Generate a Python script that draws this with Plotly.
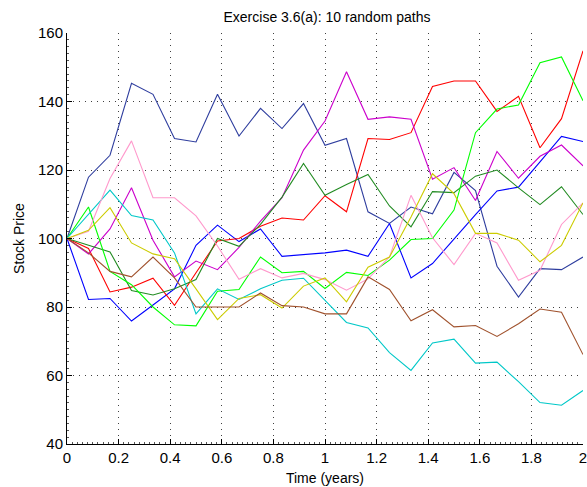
import plotly.graph_objects as go

time = [0, 1/12, 2/12, 3/12, 4/12, 5/12, 6/12, 7/12, 8/12, 9/12, 10/12, 11/12, 1,
        13/12, 14/12, 15/12, 16/12, 17/12, 18/12, 19/12, 20/12, 21/12, 22/12, 23/12, 2]

navy = [100, 117.9, 124.3, 145.3, 142.1, 129.2, 128.2, 142.1, 129.9, 138.0, 132.1, 139.4, 127.2,
        129.2, 107.8, 104.4, 109.2, 107.2, 119.3, 114.0, 91.9, 82.9, 91.2, 90.9, 94.6]
blue = [100, 82.2, 82.5, 75.9, 80.6, 85.3, 98.0, 103.9, 99.1, 102.8, 94.8, 95.3, 95.8,
        96.6, 94.8, 104.4, 88.5, 92.7, 100.0, 107.0, 113.9, 115.0, 122.4, 129.8, 128.3]
red = [100, 97.1, 84.4, 85.8, 88.4, 80.5, 90.0, 99.3, 100.0, 103.6, 106.0, 105.4, 112.5,
       107.8, 129.2, 128.9, 130.9, 144.4, 146.0, 146.0, 137.1, 141.5, 126.5, 135.0, 154.8]
magenta = [100, 95.5, 102.8, 114.8, 99.5, 88.8, 93.4, 90.9, 97.4, 105.1, 111.9, 125.8, 134.3,
           148.7, 134.8, 135.5, 134.8, 117.3, 120.7, 111.1, 125.4, 117.6, 124.0, 127.3, 121.2]
dgreen = [100, 98.0, 96.1, 84.8, 83.5, 85.3, 88.0, 100.0, 97.7, 104.1, 112.1, 121.9, 112.6,
          115.8, 118.7, 109.5, 103.4, 113.7, 113.4, 118.2, 120.0, 114.8, 109.9, 115.1, 107.0]
lime = [100, 109.2, 90.4, 86.5, 80.0, 74.8, 74.5, 84.6, 85.1, 94.6, 90.0, 90.4, 85.4,
        90.1, 89.2, 93.7, 99.7, 100.0, 108.3, 130.9, 137.8, 139.0, 151.3, 153.0, 140.2]
cyan = [100, 107.2, 114.1, 106.7, 105.4, 95.8, 78.0, 85.3, 82.2, 85.3, 87.8, 88.4, 82.0,
        75.5, 73.9, 66.7, 61.5, 69.5, 70.6, 63.6, 63.9, 58.2, 52.1, 51.3, 55.6]
pink = [100, 102.1, 117.5, 128.5, 111.9, 111.9, 106.6, 97.8, 88.1, 91.2, 88.5, 89.8, 88.0,
        84.9, 88.2, 94.6, 112.6, 100.2, 92.4, 101.5, 98.7, 87.8, 90.7, 104.1, 110.4]
yellow = [100, 102.4, 109.0, 98.7, 95.5, 94.1, 85.3, 76.3, 82.5, 83.6, 79.7, 86.1, 88.5,
          81.5, 91.6, 94.6, 106.3, 118.9, 113.1, 101.5, 101.5, 99.5, 93.2, 98.0, 110.4]
brown = [100, 95.8, 90.4, 88.8, 94.6, 88.5, 80.0, 80.0, 80.0, 84.1, 80.4, 80.0, 78.0,
         78.0, 88.8, 85.1, 76.0, 79.2, 74.2, 74.6, 71.4, 75.1, 79.4, 78.5, 66.1]

series = [navy, blue, red, magenta, dgreen, lime, cyan, pink, yellow, brown]
colors = ["#2E3D9E", "#0000FF", "#FF0000", "#CC00CC", "#228B22",
          "#00FF00", "#00C8C8", "#FF99CC", "#CCCC00", "#A0522D"]

x_ticks = [0, 0.2, 0.4, 0.6, 0.8, 1, 1.2, 1.4, 1.6, 1.8, 2]
x_tick_labels = ["0", "0.2", "0.4", "0.6", "0.8", "1", "1.2", "1.4", "1.6", "1.8", "2"]
y_ticks = [40, 60, 80, 100, 120, 140, 160]

fig = go.Figure()
for vals, col in zip(series, colors):
    fig.add_trace(go.Scatter(x=time, y=vals, mode="lines",
                             line=dict(color=col, width=1.1), showlegend=False,
                             hoverinfo="skip"))

font = "Liberation Sans, Arial, Helvetica, sans-serif"
axis_common = dict(
    showline=True, linecolor="#000", linewidth=1,
    ticks="inside", ticklen=5, tickcolor="#000", tickwidth=1,
    showgrid=True, gridcolor="rgba(0,0,0,0.75)", griddash="1px,5px", gridwidth=1,
    zeroline=False, mirror=False, ticklabeloverflow="allow",
    tickfont=dict(family=font, size=15, color="#000"),
)
fig.update_xaxes(range=[0, 2], tickvals=x_ticks, ticktext=x_tick_labels,
                 title=dict(text="Time (years)", font=dict(family=font, size=14, color="#000"), standoff=8),
                 minor=dict(ticks="inside", ticklen=2, dtick=0.02, tickcolor="#555", showgrid=False),
                 **axis_common)
fig.update_yaxes(range=[40, 160], tickvals=y_ticks,
                 title=dict(text="Stock Price", font=dict(family=font, size=14, color="#000"), standoff=10),
                 minor=dict(ticks="inside", ticklen=2, dtick=2, tickcolor="#555", showgrid=False),
                 **axis_common)

fig.update_layout(
    width=587, height=487,
    margin=dict(l=67, r=0, t=33, b=43),
    paper_bgcolor="white", plot_bgcolor="white",
    title=dict(text="Exercise 3.6(a): 10 random paths", x=(67 + 587) / 2 / 587, xanchor="center",
               y=1 - 17 / 487, yanchor="middle",
               font=dict(family=font, size=14, color="#000")),
    font=dict(family=font),
)

fig.write_html("out.html", config={"displayModeBar": False},
               post_script="document.body.style.margin='0';document.body.style.overflow='hidden';")
